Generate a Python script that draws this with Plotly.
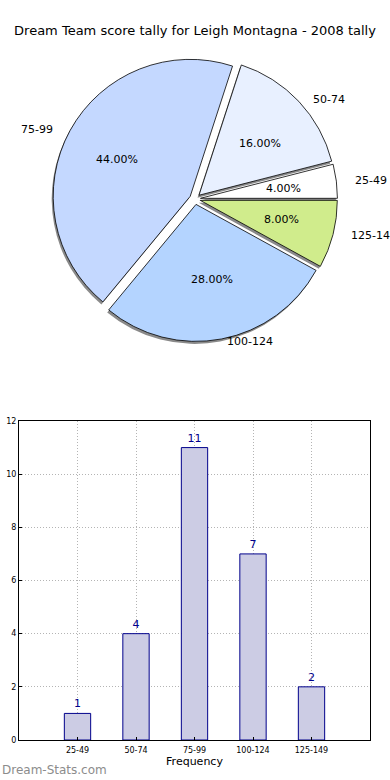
import math
import plotly.graph_objects as go

# ---- data ----
bins = ["25-49", "50-74", "75-99", "100-124", "125-149"]
counts = [1, 4, 11, 7, 2]
pie_colors = ["#ffffff", "#e8f0ff", "#c4d8ff", "#b4d4ff", "#d0ec8c"]
y_ticks = [0, 2, 4, 6, 8, 10, 12]

title_text = "Dream Team score tally for Leigh Montagna - 2008 tally"
W, H = 390, 780


def px_x(v):
    return v / W


def px_y(v):
    return 1 - v / H


# pie geometry (pixels)
cx, cy = 195, 199
r = 137.0
pull = 0.04
half = r * (1 + pull)
lab_rx, lab_ry = 1.1 * 140, 1.1 * 127   # label distance (matplotlib-style 1.1 r)
pct_rx, pct_ry = 0.6 * 140, 0.6 * 127   # percentage distance
expl = 5.5

total = sum(counts)
# plotly's counterclockwise pie: first slice ends at the rotation angle,
# so shift by the first slice so that it starts at 3 o'clock
rot = 90 - 360 * counts[0] / total

fig = go.Figure()

# shadow
sh = 2.5
fig.add_trace(go.Pie(
    labels=bins, values=counts, sort=False, direction="counterclockwise", rotation=rot,
    pull=[pull] * len(bins), textinfo="none", hoverinfo="skip", showlegend=False,
    marker=dict(colors=["#8a8a8a"] * len(bins), line=dict(width=0)),
    domain=dict(x=[px_x(cx - half - 1.5), px_x(cx + half - 1.5)],
                y=[px_y(cy + half + sh), px_y(cy - half + sh)]),
))

# main pie
fig.add_trace(go.Pie(
    labels=bins, values=counts, sort=False, direction="counterclockwise", rotation=rot,
    pull=[pull] * len(bins), textinfo="none", showlegend=False,
    marker=dict(colors=pie_colors, line=dict(color="#000000", width=0.8)),
    domain=dict(x=[px_x(cx - half), px_x(cx + half)],
                y=[px_y(cy + half), px_y(cy - half)]),
))

# labels and percentages computed from the data (matplotlib-like placement)
annotations = []
start = 0.0
for lab, c in zip(bins, counts):
    frac = c / total
    mid = math.radians(360 * (start + frac / 2))
    start += frac
    ca, sa = math.cos(mid), math.sin(mid)
    ox, oy = cx + expl * ca, cy - expl * sa
    annotations.append(dict(
        text=lab, xref="paper", yref="paper",
        x=px_x(ox + lab_rx * ca), y=px_y(oy - lab_ry * sa),
        xanchor="left" if ca > 0 else "right", yanchor="middle", showarrow=False,
        font=dict(family="DejaVu Sans", size=11, color="#000000")))
    annotations.append(dict(
        text=f"{frac * 100:.2f}%", xref="paper", yref="paper",
        x=px_x(ox + pct_rx * ca), y=px_y(oy - pct_ry * sa),
        xanchor="center", yanchor="middle", showarrow=False,
        font=dict(family="DejaVu Sans", size=11, color="#000000")))

# bar chart
fig.add_trace(go.Bar(
    x=bins, y=counts, width=0.45,
    marker=dict(color="#ccccE4", line=dict(color="#00008b", width=1)),
    text=[str(c) for c in counts], textposition="outside",
    textfont=dict(family="DejaVu Sans", size=11, color="#00008b"),
    cliponaxis=False, showlegend=False,
))

annotations += [
    dict(text="Scores in Bin", xref="paper", yref="paper", x=px_x(3), y=px_y(580),
         xanchor="right", yanchor="middle", textangle=-90, showarrow=False,
         font=dict(family="DejaVu Sans", size=11, color="#000000")),
    dict(text="Dream-Stats.com", xref="paper", yref="paper", x=0, y=px_y(770),
         xanchor="left", yanchor="middle", showarrow=False,
         font=dict(family="DejaVu Sans", size=12, color="#8c8c8c")),
]

fig.update_layout(
    width=W, height=H, autosize=False,
    margin=dict(l=0, r=0, t=0, b=0, pad=0, autoexpand=False),
    paper_bgcolor="white", plot_bgcolor="white",
    font=dict(family="DejaVu Sans", color="#000000"),
    title=dict(text=title_text, x=0.5, xanchor="center", y=px_y(30), yanchor="middle",
               pad=dict(t=0, b=0, l=0, r=0),
               font=dict(family="DejaVu Sans", size=13, color="#000000")),
    xaxis=dict(domain=[px_x(19), px_x(370)], range=[-1, 5], type="category",
               automargin=False,
               showline=True, mirror=True, linecolor="#000000", linewidth=1,
               showgrid=True, gridcolor="#b4b4b4", griddash="1px,2px", gridwidth=1,
               ticks="inside", ticklen=3, tickcolor="#000000", ticklabelstandoff=2,
               tickfont=dict(family="DejaVu Sans", size=8, color="#000000"),
               title=dict(text="Frequency", standoff=3,
                          font=dict(family="DejaVu Sans", size=11, color="#000000")),
               zeroline=False),
    yaxis=dict(domain=[px_y(740), px_y(421)], range=[0, 12], tickvals=y_ticks,
               automargin=False,
               showline=True, mirror=True, linecolor="#000000", linewidth=1,
               showgrid=True, gridcolor="#b4b4b4", griddash="1px,2px", gridwidth=1,
               ticks="inside", ticklen=3, tickcolor="#000000",
               tickfont=dict(family="DejaVu Sans", size=8, color="#000000"),
               zeroline=False),
    annotations=annotations,
)

fig.write_html("out.html", config={"displayModeBar": False},
               post_script="document.body.style.margin='0';document.body.style.padding='0';")
